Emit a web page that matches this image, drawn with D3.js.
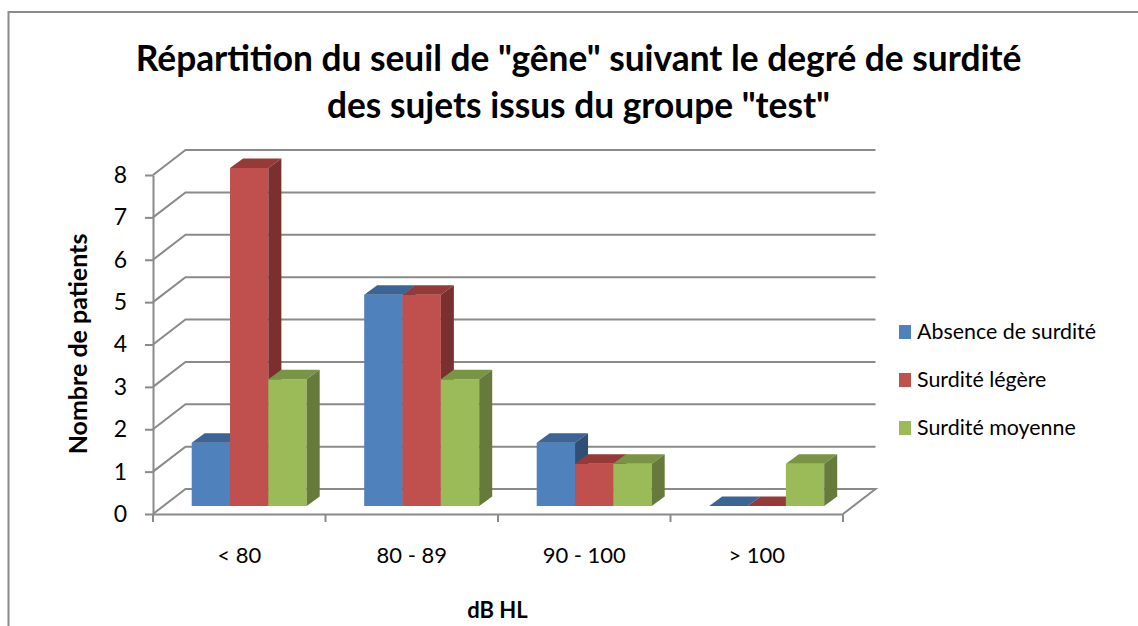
<!DOCTYPE html>
<html>
<head>
<meta charset="utf-8">
<script src="https://cdn.jsdelivr.net/npm/d3@7"></script>
<style>
html, body { margin: 0; padding: 0; background: #fff; overflow: hidden; }
svg { display: block; }
text { font-family: Lato, "Open Sans", sans-serif; fill: #000; }
</style>
</head>
<body>
<svg id="chart"></svg>
<script>
var categories = ['< 80', '80 - 89', '90 - 100', '> 100'];
var seriesNames = ['Absence de surdité', 'Surdité légère', 'Surdité moyenne'];
var absence = [1.5, 5, 1.5, 0];
var legere = [8, 5, 1, 0];
var moyenne = [3, 3, 1, 1];
var yTicks = [0, 1, 2, 3, 4, 5, 6, 7, 8];
var titleLines = ['Répartition du seuil de "gêne" suivant le degré de surdité', 'des sujets issus du groupe "test"'];

var seriesValues = [absence, legere, moyenne];
var front = ['#4f81bd', '#c0504d', '#9bbb59'];
var topFace = ['#3c6494', '#953a38', '#7a9445'];
var side = ['#2f4f75', '#7a302e', '#667b3b'];

var svg = d3.select('#chart').attr('width', 1138).attr('height', 626);
var gridColor = '#8a8a8a';

// cadre (coupe a droite et en bas)
svg.append('rect')
    .attr('x', 8.5).attr('y', 12).attr('width', 1200).attr('height', 700)
    .attr('fill', '#fff').attr('stroke', gridColor).attr('stroke-width', 2);

// titre
svg.selectAll('.title').data(titleLines).enter().append('text')
    .attr('class', 'title')
    .attr('x', 578.5)
    .attr('y', function(d, i){ return 71 + i * 47; })
    .attr('text-anchor', 'middle')
    .attr('font-size', 35.3)
    .attr('font-weight', 700)
    .text(function(d){ return d; });

// plan avant, decalage du mur arriere
var xLeft = 153, xRight = 843, yBase = 514, yTop = 175;
var wallDx = 32.5, wallDy = -25;
var barDx = 13, barDy = -9.5;

var xScale = d3.scaleBand().domain(categories).range([xLeft, xRight]);
var yScale = d3.scaleLinear().domain([0, 8]).range([yBase, yTop]);
var inner = d3.scaleBand().domain([0, 1, 2]).range([38.7, 153.7]);

// sol + grille
var g = svg.append('g').attr('fill', 'none').attr('stroke', gridColor).attr('stroke-width', 2);
g.selectAll('.grid').data(yTicks.slice(1)).enter().append('path')
    .attr('class', 'grid')
    .attr('d', function(d){
        var y = yScale(d);
        return d3.line()([[xLeft, y], [xLeft + wallDx, y + wallDy], [xRight + wallDx, y + wallDy]]);
    });
g.append('path').attr('d', d3.line()([
    [xLeft, yBase], [xLeft + wallDx, yBase + wallDy], [xRight + wallDx, yBase + wallDy], [xRight, yBase]
]));

// axes
var yAxis = d3.axisLeft(yScale).tickValues(yTicks).tickSize(8).tickPadding(18).tickSizeOuter(0).tickFormat(d3.format('d'));
var yg = svg.append('g').attr('transform', 'translate(' + xLeft + ',0)').call(yAxis);
var xAxis = d3.axisBottom(xScale).tickSize(0).tickPadding(33);
var xg = svg.append('g').attr('transform', 'translate(0,' + yBase + ')').call(xAxis);
xg.selectAll('.tick').append('line')
    .attr('x1', xScale.bandwidth() / 2).attr('x2', xScale.bandwidth() / 2).attr('y1', 0).attr('y2', 8);
xg.append('line').attr('x1', xLeft).attr('x2', xLeft).attr('y1', 0).attr('y2', 8);
[yg, xg].forEach(function(a){
    a.selectAll('path.domain').attr('stroke', gridColor).attr('stroke-width', 2);
    a.selectAll('line').attr('stroke', gridColor).attr('stroke-width', 2);
    a.selectAll('text').attr('font-size', 22).attr('font-family', 'Lato').attr('fill', '#000');
});
yg.selectAll('text').attr('font-size', 23);

// barres
var barBase = 506;
var barY = d3.scaleLinear().domain([0, 8]).range([barBase, 168]);
var bars = svg.append('g');
categories.forEach(function(cat, c){
    seriesValues.forEach(function(vals, s){
        var v = vals[c];
        var x0 = xScale(cat) + inner(s);
        var x1 = x0 + inner.bandwidth();
        var y = barY(v);
        var b = bars.append('g');
        if (v > 0) {
            b.append('rect').attr('x', x0).attr('y', y).attr('width', x1 - x0).attr('height', barBase - y).attr('fill', front[s]);
        }
        b.append('path').attr('fill', topFace[s]).attr('d', d3.line()([
            [x0, y], [x0 + barDx, y + barDy], [x1 + barDx, y + barDy], [x1, y]
        ]) + 'Z');
        if (v > 0) {
            b.append('path').attr('fill', side[s]).attr('d', d3.line()([
                [x1, y], [x1 + barDx, y + barDy], [x1 + barDx, barBase + barDy], [x1, barBase]
            ]) + 'Z');
        }
    });
});

// titres d'axes
svg.append('text')
    .attr('transform', 'translate(87,344) rotate(-90)')
    .attr('text-anchor', 'middle').attr('font-size', 25).attr('font-weight', 700)
    .text('Nombre de patients');
svg.append('text')
    .attr('x', 497.5).attr('y', 618)
    .attr('text-anchor', 'middle').attr('font-size', 22).attr('font-weight', 700)
    .text('dB HL');

// legende
var legend = svg.selectAll('.legend').data(seriesNames).enter().append('g')
    .attr('class', 'legend')
    .attr('transform', function(d, i){ return 'translate(899,' + (339 + i * 48) + ')'; });
legend.append('rect').attr('x', 0).attr('y', -14).attr('width', 12).attr('height', 14)
    .attr('fill', function(d, i){ return front[i]; });
legend.append('text').attr('x', 18).attr('y', 0).attr('font-size', 21.4).text(function(d){ return d; });
</script>
</body>
</html>
